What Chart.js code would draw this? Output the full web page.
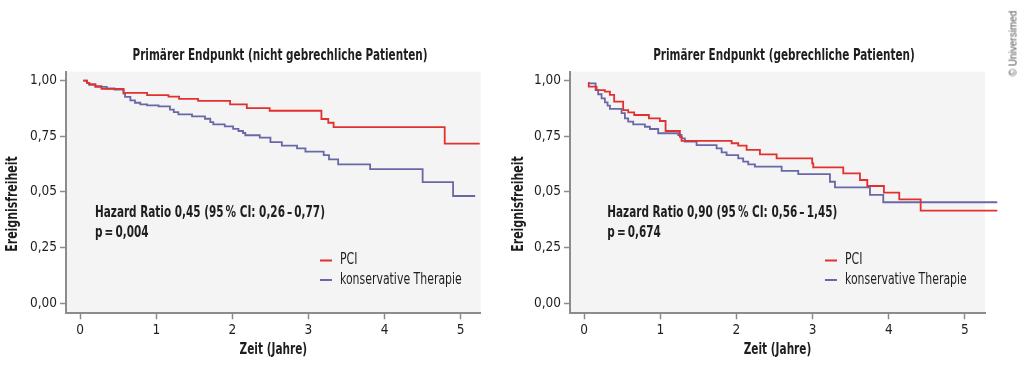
<!DOCTYPE html>
<html>
<head>
<meta charset="utf-8">
<script src="https://cdn.jsdelivr.net/npm/chart.js@4.4.0/dist/chart.umd.min.js"></script>
<style>
  html, body { margin: 0; padding: 0; background: #fff; }
  body { width: 1024px; height: 370px; position: relative; overflow: hidden; }
  canvas { position: absolute; top: 0; }
  #mark { position: absolute; left: 972.7px; top: 37.5px; width: 80px; line-height: 12px;
          text-align: center; font: 10px 'Liberation Sans', Arial, sans-serif; color: #555;
          transform: rotate(-90deg); transform-origin: 50% 50%; white-space: nowrap; }
</style>
</head>
<body>
<canvas id="leftChart" width="510" height="370" style="left:0"></canvas>
<canvas id="rightChart" width="514" height="370" style="left:510px"></canvas>
<div id="mark">© Universimed</div>
<script>
// axis ticks
const xTicks = [0, 1, 2, 3, 4, 5];
const xTickLabels = ['0', '1', '2', '3', '4', '5'];
const yTicks = [0, 0.25, 0.5, 0.75, 1];
const yTickLabels = ['0,00', '0,25', '0,05', '0,75', '1,00'];

const seriesNames = ['PCI', 'konservative Therapie'];

// nicht gebrechliche Patienten (time in years, survival at step)
const leftPciT = [0.04, 0.09, 0.12, 0.20, 0.28, 0.57, 0.88, 1.16, 1.30, 1.55, 1.97, 2.19, 2.49, 3.17, 3.26, 3.33, 4.79, 5.25];
const leftPciS = [1.000, 0.990, 0.983, 0.975, 0.963, 0.945, 0.935, 0.928, 0.918, 0.909, 0.894, 0.877, 0.865, 0.828, 0.811, 0.791, 0.717, 0.717];
const leftConT = [0.04, 0.09, 0.12, 0.20, 0.35, 0.45, 0.57, 0.59, 0.66, 0.72, 0.79, 0.88, 1.03, 1.18, 1.23, 1.29, 1.47, 1.64, 1.71, 1.75, 1.90, 2.01, 2.08, 2.14, 2.17, 2.36, 2.50, 2.65, 2.85, 2.96, 3.20, 3.27, 3.39, 3.81, 4.50, 4.90, 5.19];
const leftConS = [1.000, 0.990, 0.983, 0.972, 0.965, 0.960, 0.942, 0.927, 0.912, 0.901, 0.894, 0.889, 0.885, 0.870, 0.859, 0.849, 0.840, 0.829, 0.814, 0.804, 0.795, 0.784, 0.774, 0.765, 0.755, 0.744, 0.724, 0.708, 0.696, 0.681, 0.666, 0.647, 0.624, 0.603, 0.544, 0.482, 0.482];

// gebrechliche Patienten
const rightPciT = [0.05, 0.06, 0.163, 0.272, 0.338, 0.394, 0.512, 0.578, 0.657, 0.850, 0.994, 1.069, 1.257, 1.279, 1.936, 2.023, 2.133, 2.308, 2.527, 2.994, 3.008, 3.402, 3.621, 3.717, 3.936, 4.137, 4.418, 5.424];
const rightPciS = [0.990, 0.973, 0.958, 0.951, 0.936, 0.906, 0.868, 0.858, 0.846, 0.831, 0.819, 0.774, 0.748, 0.730, 0.719, 0.708, 0.689, 0.669, 0.651, 0.629, 0.611, 0.584, 0.554, 0.527, 0.497, 0.467, 0.416, 0.416];
const rightConT = [0.053, 0.150, 0.184, 0.229, 0.272, 0.307, 0.338, 0.491, 0.535, 0.578, 0.644, 0.797, 0.863, 0.972, 1.235, 1.279, 1.323, 1.476, 1.739, 1.805, 1.870, 2.023, 2.088, 2.154, 2.242, 2.593, 2.811, 3.227, 3.293, 3.753, 3.927, 5.424];
const rightConS = [0.988, 0.958, 0.939, 0.921, 0.903, 0.888, 0.873, 0.854, 0.831, 0.816, 0.804, 0.793, 0.783, 0.764, 0.756, 0.741, 0.726, 0.711, 0.696, 0.678, 0.666, 0.651, 0.636, 0.624, 0.614, 0.595, 0.580, 0.546, 0.521, 0.487, 0.454, 0.454];

const FONT = "'Liberation Sans Narrow', 'DejaVu Sans Condensed', 'Arial Narrow', sans-serif";
const TEXT = '#1e1e1e';
const AXIS = '#8c8c8c';
const RED = '#e2302f';
const BLUE = '#6968a6';

function points(ts, ss) {
    return ts.map((t, i) => ({ x: t, y: ss[i] }));
}

// text squeezed sideways, the original face is a condensed one
function squeezed(ctx, text, x, y, align, sx, rot) {
    ctx.save();
    ctx.translate(x, y);
    if (rot) ctx.rotate(rot);
    ctx.scale(sx, 1);
    ctx.textAlign = align;
    ctx.fillText(text, 0, 0);
    ctx.restore();
}

// plot background, header texts, hazard note and legend
const panelText = {
    id: 'panelText',
    beforeDraw(chart) {
        const { ctx, chartArea: a } = chart;
        ctx.save();
        ctx.fillStyle = '#f4f4f4';
        ctx.fillRect(a.left, a.top, a.right - a.left, a.bottom - a.top);
        ctx.restore();
    },
    afterDraw(chart, args, o) {
        const ctx = chart.ctx;
        const a = chart.chartArea;
        ctx.save();
        ctx.fillStyle = TEXT;
        ctx.textBaseline = 'middle';
        ctx.font = 'bold 15px ' + FONT;
        squeezed(ctx, o.title, o.titleX, 55.7, 'center', 0.775);
        squeezed(ctx, 'Ereignisfreiheit', o.yTitleX, 204, 'center', 0.81, -Math.PI / 2);
        squeezed(ctx, 'Zeit (Jahre)', (a.left + a.right) / 2, 350, 'center', 0.78);
        squeezed(ctx, o.hazard, o.noteX, 213.3, 'left', 0.775);
        squeezed(ctx, o.pValue, o.noteX, 233.3, 'left', 0.775);

        ctx.font = '15px ' + FONT;
        chart.data.datasets.forEach((ds, i) => {
            const y = o.legendY + i * 19.5;
            ctx.strokeStyle = ds.borderColor;
            ctx.lineWidth = 2;
            ctx.beginPath();
            ctx.moveTo(o.legendX, y);
            ctx.lineTo(o.legendX + 12, y);
            ctx.stroke();
            squeezed(ctx, ds.label, o.legendX + 20, y, 'left', 0.81);
        });
        ctx.restore();
    }
};

function makeChart(id, pci, con, axisWidth, padRight, text) {
    const ctx = document.getElementById(id).getContext('2d');
    return new Chart(ctx, {
        type: 'line',
        data: {
            datasets: [{
                label: seriesNames[0],
                data: pci,
                borderColor: RED,
                borderWidth: 1.8,
                stepped: 'before',
                pointRadius: 0,
                fill: false,
                clip: false
            }, {
                label: seriesNames[1],
                data: con,
                borderColor: BLUE,
                borderWidth: 1.8,
                stepped: 'before',
                pointRadius: 0,
                fill: false,
                clip: false
            }]
        },
        options: {
            responsive: false,
            animation: false,
            layout: { padding: { left: 0, right: padRight, top: 71.7, bottom: 0 } },
            plugins: {
                legend: { display: false },
                tooltip: { enabled: false },
                panelText: text
            },
            scales: {
                x: {
                    type: 'linear',
                    min: -0.186,
                    max: 5.263,
                    afterBuildTicks: s => { s.ticks = xTicks.map(v => ({ value: v })); },
                    afterFit: s => { s.height = 56.7; },
                    ticks: {
                        callback: v => xTickLabels[xTicks.indexOf(v)],
                        font: { family: FONT, size: 13.5 },
                        color: TEXT,
                        padding: 3,
                        maxRotation: 0,
                        autoSkip: false
                    },
                    grid: { drawOnChartArea: false, drawTicks: true, tickLength: 6, tickColor: AXIS, tickWidth: 1.5 },
                    border: { display: true, color: AXIS, width: 2 }
                },
                y: {
                    type: 'linear',
                    min: -0.0449,
                    max: 1.0404,
                    afterBuildTicks: s => { s.ticks = yTicks.map(v => ({ value: v })); },
                    afterFit: s => { s.width = axisWidth; },
                    ticks: {
                        callback: v => yTickLabels[yTicks.indexOf(v)],
                        font: { family: FONT, size: 13.5 },
                        color: TEXT,
                        padding: 3,
                        autoSkip: false
                    },
                    grid: { drawOnChartArea: false, drawTicks: true, tickLength: 6, tickColor: AXIS, tickWidth: 1.5 },
                    border: { display: true, color: AXIS, width: 2 }
                }
            }
        },
        plugins: [panelText]
    });
}

makeChart('leftChart', points(leftPciT, leftPciS), points(leftConT, leftConS), 66, 29.3, {
    title: 'Primärer Endpunkt (nicht gebrechliche Patienten)',
    titleX: 280,
    yTitleX: 13.5,
    hazard: 'Hazard Ratio 0,45 (95\u2009% CI: 0,26\u2009–\u20090,77)',
    pValue: 'p\u2009=\u20090,004',
    noteX: 95,
    legendX: 320,
    legendY: 260.5
});

makeChart('rightChart', points(rightPciT, rightPciS), points(rightConT, rightConS), 60, 39, {
    title: 'Primärer Endpunkt (gebrechliche Patienten)',
    titleX: 274,
    yTitleX: 9,
    hazard: 'Hazard Ratio 0,90 (95\u2009% CI: 0,56\u2009–\u20091,45)',
    pValue: 'p\u2009=\u20090,674',
    noteX: 97.3,
    legendX: 315,
    legendY: 260.5
});
</script>
</body>
</html>
